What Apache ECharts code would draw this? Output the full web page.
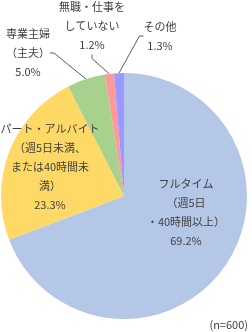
<!DOCTYPE html>
<html>
<head>
<meta charset="utf-8">
<script src="https://cdn.jsdelivr.net/npm/echarts@6/dist/echarts.min.js"></script>
<style>
  html, body { margin: 0; padding: 0; background: #fff; }
  #chart { width: 252px; height: 332px; }
</style>
</head>
<body>
<div id="chart"></div>
<script>
const categories = [
  "フルタイム\n（週5日\n・40時間以上）",
  "パート・アルバイト\n（週5日未満、\nまたは40時間未\n満）",
  "専業主婦\n（主夫）",
  "無職・仕事を\nしていない",
  "その他"
];
const values = [69.2, 23.3, 5.0, 1.2, 1.3];
const colors = ["#B4C7E7", "#FFD966", "#A9D18E", "#FF9999", "#9999FF"];
const sampleNote = "(n=600)";

// label centres (px)
const labelPos = [
  [186, 212],
  [50, 167],
  [28, 53],
  [92, 26],
  [160, 36]
];

const chart = echarts.init(document.getElementById("chart"));

const option = {
  animation: false,
  graphic: [
    {
      type: "text",
      right: 4,
      top: 319,
      style: {
        text: sampleNote,
        font: "11px 'Noto Sans CJK JP'",
        fill: "#404040"
      }
    }
  ],
  series: [
    {
      type: "pie",
      center: [124, 196],
      radius: [0, 123],
      startAngle: 90,
      clockwise: true,
      avoidLabelOverlap: false,
      data: categories.map((name, i) => ({
        name: name,
        value: values[i],
        itemStyle: { color: colors[i] },
        label: { position: i < 2 ? "inside" : "outside" },
        labelLine: { show: i >= 2 }
      })),
      label: {
        show: true,
        formatter: (p) => p.name + "\n" + p.value.toFixed(1) + "%",
        fontFamily: "Noto Sans CJK JP",
        fontSize: 11,
        lineHeight: 19,
        color: "#404040",
        align: "center"
      },
      labelLine: {
        show: true,
        length: 6,
        length2: 4,
        lineStyle: { color: "#595959", width: 1 }
      },
      labelLayout: (p) => ({
        x: labelPos[p.dataIndex][0],
        y: labelPos[p.dataIndex][1],
        align: "center",
        verticalAlign: "middle"
      }),
      emphasis: { disabled: true }
    }
  ]
};

chart.setOption(option);
</script>
</body>
</html>
